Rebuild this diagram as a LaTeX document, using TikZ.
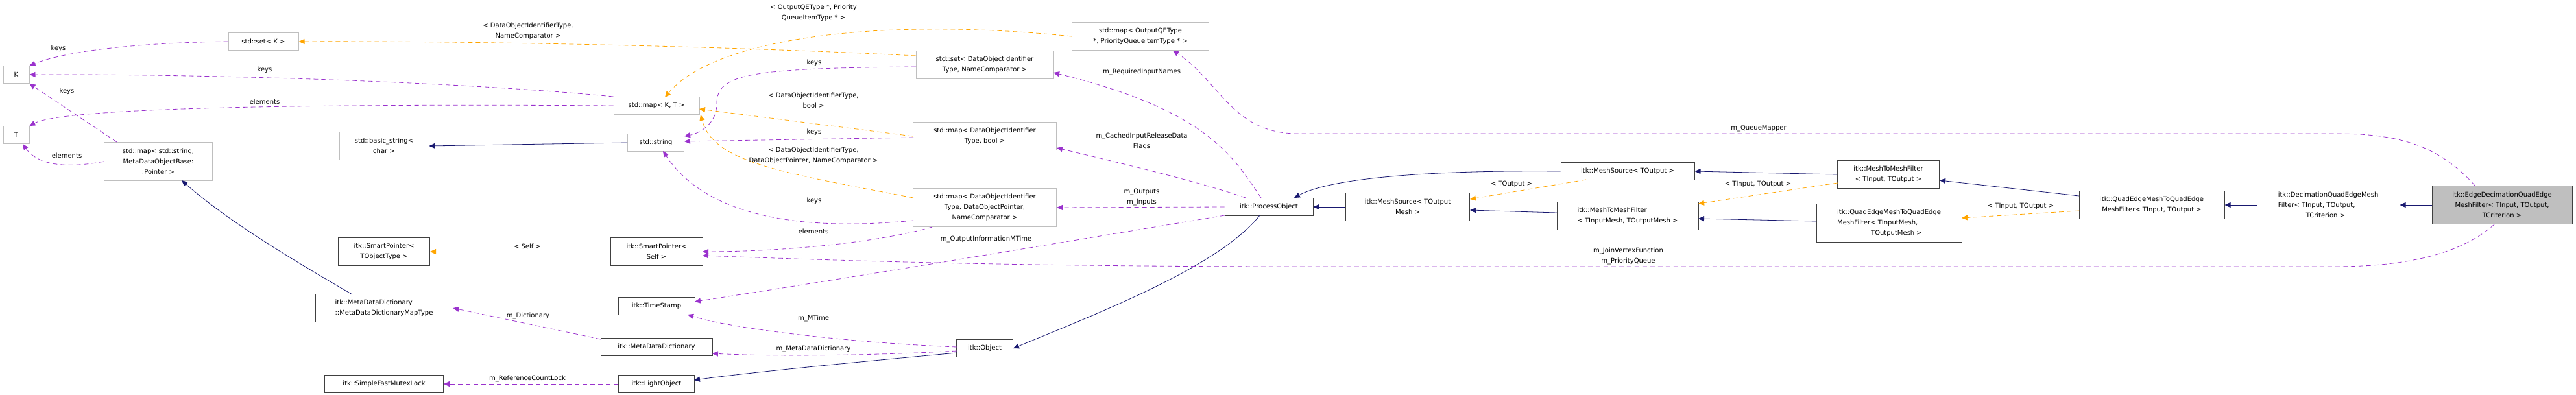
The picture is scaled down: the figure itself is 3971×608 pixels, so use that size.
\documentclass[tikz,border=0pt]{standalone}
\usepackage{fontspec}
\setmainfont{DejaVu Sans}
\usetikzlibrary{arrows.meta}
\definecolor{pur}{HTML}{9A32CD}
\definecolor{org}{HTML}{FFA500}
\definecolor{nav}{HTML}{191970}
\definecolor{gb}{HTML}{BFBFBF}
\definecolor{bb}{HTML}{404040}
\begin{document}
\begin{tikzpicture}[x=1pt,y=-1pt,
  every node/.style={font=\fontsize{10}{16}\selectfont, inner sep=0pt},
  gbox/.style={draw=gb, line width=1pt, fill=white, align=center},
  bbox/.style={draw=bb, line width=1pt, fill=white, align=center},
  lbl/.style={align=center, fill=none},
  tip/.style={-{Triangle[length=9pt,width=8pt]}},
  mem/.style={tip, pur, dashed, dash pattern=on 7pt off 5pt, line width=0.8pt},
  tpl/.style={tip, org, dashed, dash pattern=on 7pt off 5pt, line width=0.8pt},
  inh/.style={tip, nav, line width=0.8pt}]
\useasboundingbox (0,0) rectangle (3971,608);
\newcommand{\bx}[6]{\node[#1, minimum width=#4, minimum height=#5] (#2) at (#3) {#6};}
% left
\bx{gbox}{K}{25,115}{40}{27}{K}
\bx{gbox}{T}{25,208}{40}{27}{T}
\bx{gbox}{setK}{406,64}{108}{27}{std::set< K >}
\bx{gbox}{mapstr}{244,249}{167}{59}{std::map< std::string,\\MetaDataObjectBase:\\:Pointer >}
\bx{gbox}{basic}{592,225}{138}{43}{std::basic\_string<\\char >}
\bx{bbox}{spt}{592,388}{141}{43}{itk::SmartPointer<\\TObjectType >}
\node[bbox, minimum width=212, minimum height=43, align=left] (maptype) at (592,475) {itk::MetaDataDictionary\\::MetaDataDictionaryMapType};
\bx{bbox}{mutex}{592,592}{183}{27}{itk::SimpleFastMutexLock}
% second column
\bx{gbox}{mapKT}{1012,163}{132}{27}{std::map< K, T >}
\bx{gbox}{str}{1011,220}{87}{27}{std::string}
\bx{bbox}{sps}{1012,388}{142}{43}{itk::SmartPointer<\\Self >}
\bx{bbox}{ts}{1012,472}{118}{27}{itk::TimeStamp}
\bx{bbox}{mdd}{1012,535}{172}{27}{itk::MetaDataDictionary}
\bx{bbox}{lo}{1012,592}{117}{27}{itk::LightObject}
% third column
\bx{gbox}{setD}{1518,100}{212}{43}{std::set< DataObjectIdentifier\\Type, NameComparator >}
\bx{gbox}{mapDB}{1518,210}{221}{43}{std::map< DataObjectIdentifier\\Type, bool >}
\bx{gbox}{mapDOP}{1518,320}{221}{59}{std::map< DataObjectIdentifier\\Type, DataObjectPointer,\\NameComparator >}
\bx{gbox}{mapQE}{1758,56}{211}{43}{std::map< OutputQEType\\ *, PriorityQueueItemType * >}
\bx{bbox}{obj}{1518,537}{87}{27}{itk::Object}
\bx{bbox}{po}{1956,319}{136}{27}{itk::ProcessObject}
\bx{bbox}{msTOM}{2170,319}{191}{43}{itk::MeshSource< TOutput\\Mesh >}
\bx{bbox}{msTO}{2509,264}{206}{27}{itk::MeshSource< TOutput >}
\node[bbox, minimum width=218, minimum height=43, align=left] (mmTIM) at (2509,333) {itk::MeshToMeshFilter\\< TInputMesh, TOutputMesh >};
\bx{bbox}{mmTI}{2911,269}{157}{43}{itk::MeshToMeshFilter\\< TInput, TOutput >}
\node[bbox, minimum width=224, minimum height=59, align=left] (qTIM) at (2912,344) {itk::QuadEdgeMeshToQuadEdge\\MeshFilter< TInputMesh,\\\hspace*{5.2em}TOutputMesh >};
\bx{bbox}{qTI}{3317,316}{224}{43}{itk::QuadEdgeMeshToQuadEdge\\MeshFilter< TInput, TOutput >}
\node[bbox, minimum width=220, minimum height=59, align=left] (dec) at (3589,316) {itk::DecimationQuadEdgeMesh\\Filter< TInput, TOutput,\\\hspace*{4.3em}TCriterion >};
\node[draw=bb, line width=1pt, fill=gb, minimum width=216, minimum height=59, align=center] (ed) at (3857,316) {itk::EdgeDecimationQuadEdge\\MeshFilter< TInput, TOutput,\\TCriterion >};
% edges left
\draw[mem] (setK.west) .. controls (200,66) and (100,80) .. (K.north east);
\draw[mem] (mapKT.north west) .. controls (700,125) and (300,114) .. (K.east);
\draw[mem] (180,219) -- (K.south east);
\draw[mem] (mapKT.west) .. controls (500,160) and (100,165) .. (T.north east);
\draw[mem] (mapstr.west) .. controls (90,262) and (55,250) .. (35,222);
\draw[tpl] (1412,86) .. controls (1100,70) and (700,63) .. (setK.east);
\draw[tpl] (mapQE.west) .. controls (1350,25) and (1100,60) .. (1025,150);
\draw[tpl] (mapDB.west) -- (1078,168);
\draw[tpl] (1408,305) .. controls (1200,265) and (1100,250) .. (1080,177);
\draw[mem] (1412,103) .. controls (1150,105) and (1105,115) .. (1105,160) .. controls (1105,190) and (1080,205) .. (1055,210);
\draw[mem] (1408,212) -- (1055,218);
\draw[mem] (1408,340) .. controls (1200,360) and (1080,320) .. (1022,233);
\draw[mem] (1437,350) .. controls (1350,375) and (1200,388) .. (1083,388);
\draw[inh] (str.west) -- (basic.east);
\draw[inh] (543,454) .. controls (450,400) and (350,340) .. (280,278);
\draw[tpl] (sps.west) -- (spt.east);
\draw[mem] (926,523) -- (maptype.east);
\draw[mem] (lo.west) -- (mutex.east);
\draw[mem] (1475,535) .. controls (1300,528) and (1120,505) .. (1060,485);
\draw[mem] (1475,541) .. controls (1350,548) and (1200,550) .. (1098,545);
\draw[inh] (1475,544) .. controls (1300,560) and (1150,575) .. (1070,586);
\draw[inh] (1942,332) .. controls (1880,410) and (1700,480) .. (obj.east);
\draw[mem] (1944,305) .. controls (1900,240) and (1860,170) .. (1624,112);
\draw[mem] (1920,305) .. controls (1850,280) and (1700,245) .. (1629,228);
\draw[mem] (po.west) -- (1629,320);
\draw[mem] (1888,332) .. controls (1600,380) and (1300,430) .. (1071,465);
\draw[mem] (3845,346) .. controls (3790,395) and (3700,411) .. (3600,411) -- (2000,411) .. controls (1500,411) and (1200,398) .. (1083,394);
\draw[mem] (3815,286) .. controls (3760,225) and (3700,206) .. (3600,206) -- (2000,206) .. controls (1900,206) and (1880,125) .. (1808,78);
\draw[inh] (msTOM.west) -- (po.east);
\draw[inh] (msTO.west) .. controls (2200,262) and (2050,275) .. (1995,305);
\draw[tpl] (2445,277) -- (2266,307);
\draw[inh] (2400,328) -- (2266,324);
\draw[inh] (mmTI.west) -- (msTO.east);
\draw[tpl] (2833,282) -- (2618,314);
\draw[inh] (2800,341) -- (2618,337);
\draw[inh] (3205,302) -- (2990,278);
\draw[tpl] (3205,325) -- (3024,336);
\draw[inh] (dec.west) -- (qTI.east);
\draw[inh] (ed.west) -- (dec.east);
% labels
\node[lbl] (l1) at (90,75) {keys};
\node[lbl] (l2) at (408,108) {keys};
\node[lbl] (l3) at (103,141) {keys};
\node[lbl] (l4) at (408,157) {elements};
\node[lbl] (l5) at (103,240) {elements};
\node[lbl] (l6) at (814,48) {< DataObjectIdentifierType,\\NameComparator >};
\node[lbl] (l7) at (1254,20) {< OutputQEType *, Priority\\QueueItemType * >};
\node[lbl] (l8) at (1254,155) {< DataObjectIdentifierType,\\bool >};
\node[lbl] (l9) at (1254,240) {< DataObjectIdentifierType,\\DataObjectPointer, NameComparator >};
\node[lbl] (l10) at (1255,97) {keys};
\node[lbl] (l11) at (1255,204) {keys};
\node[lbl] (l12) at (1255,310) {keys};
\node[lbl] (l13) at (1254,357) {elements};
\node[lbl] (l14) at (813,380) {< Self >};
\node[lbl] (l15) at (814,487) {m\_Dictionary};
\node[lbl] (l16) at (813,584) {m\_ReferenceCountLock};
\node[lbl] (l17) at (1254,491) {m\_MTime};
\node[lbl] (l18) at (1254,538) {m\_MetaDataDictionary};
\node[lbl] (l19) at (1760,111) {m\_RequiredInputNames};
\node[lbl] (l20) at (1760,218) {m\_CachedInputReleaseData\\Flags};
\node[lbl] (l21) at (1760,304) {m\_Outputs\\m\_Inputs};
\node[lbl] (l22) at (1520,369) {m\_OutputInformationMTime};
\node[lbl] (l23) at (2510,395) {m\_JoinVertexFunction\\m\_PriorityQueue};
\node[lbl] (l24) at (2711,198) {m\_QueueMapper};
\node[lbl] (l25) at (2330,284) {< TOutput >};
\node[lbl] (l26) at (2710,284) {< TInput, TOutput >};
\node[lbl] (l27) at (3115,318) {< TInput, TOutput >};
\end{tikzpicture}
\end{document}
